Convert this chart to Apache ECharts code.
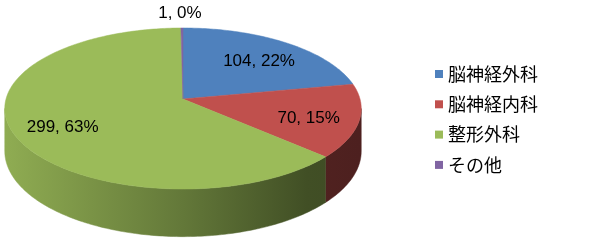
<!DOCTYPE html>
<html><head><meta charset="utf-8">
<script src="https://cdn.jsdelivr.net/npm/echarts@6/dist/echarts.min.js"></script>
<style>html,body{margin:0;padding:0;background:#fff}#c{width:600px;height:245px}</style>
</head><body><div id="c"></div>
<script>
const categories = ['脳神経外科', '脳神経内科', '整形外科', 'その他'];
const counts = [104, 70, 299, 1];
const colors = ['#4f81bd', '#c0504d', '#9bbb59', '#8064a2'];

const total = counts.reduce((a, b) => a + b, 0);
const CX = 183, CY = 99, RX = 177, RY = 79.4, K = 0.118, DEPTH = 42;
const SIL1 = 90 + Math.asin(K) * 180 / Math.PI;
const SIL2 = 270 - Math.asin(K) * 180 / Math.PI;

function proj(deg, r) {
  const t = deg * Math.PI / 180;
  const X = r * Math.sin(t), Z = -r * Math.cos(t);
  const d = 1 - K * Z;
  return [CX + RX * X / d, CY + RY * Z / d];
}
function shade(hex, f) {
  const n = parseInt(hex.slice(1), 16);
  const r = Math.round(((n >> 16) & 255) * f), g = Math.round(((n >> 8) & 255) * f), b = Math.round((n & 255) * f);
  return 'rgb(' + r + ',' + g + ',' + b + ')';
}
function sideFill(c) {
  return {
    type: 'linear', x: CX - RX, y: 0, x2: CX + RX, y2: 0, global: true,
    colorStops: [
      { offset: 0, color: shade(c, 0.92) },
      { offset: 0.5, color: shade(c, 0.64) },
      { offset: 0.85, color: shade(c, 0.42) },
      { offset: 1, color: shade(c, 0.40) }
    ]
  };
}

function renderItem(params, api) {
  const i = params.seriesIndex;
  const v = api.value(0);
  const color = api.visual('color');
  let before = 0;
  for (let j = 0; j < i; j++) before += counts[j];
  const a1 = before / total * 360, a2 = (before + v) / total * 360;
  const children = [];
  const s1 = Math.max(a1, SIL1), s2 = Math.min(a2, SIL2);
  if (s2 > s1) {
    const top = [], bot = [];
    const n = Math.max(2, Math.ceil(s2 - s1));
    for (let k = 0; k <= n; k++) {
      const a = s1 + (s2 - s1) * k / n;
      const p = proj(a, 1);
      const Z = -Math.cos(a * Math.PI / 180);
      const dd = DEPTH / (1 - K * Z);
      top.push(p);
      bot.push([p[0], p[1] + dd]);
    }
    const fill = sideFill(color);
    children.push({ type: 'polygon', shape: { points: top.concat(bot.reverse()) },
      style: { fill: fill, stroke: fill, lineWidth: 0.5 }, z2: 1 });
  }
  const pts = [[CX, CY]];
  const n2 = Math.max(2, Math.ceil(a2 - a1));
  for (let k = 0; k <= n2; k++) pts.push(proj(a1 + (a2 - a1) * k / n2, 1));
  children.push({ type: 'polygon', shape: { points: pts },
    style: { fill: color, stroke: color, lineWidth: 0.5 }, z2: 5 });
  const pct = Math.round(v / total * 100);
  const mid = (a1 + a2) / 2;
  const txt = v + ', ' + pct + '%';
  let lp, va;
  if (v / total < 0.03) { lp = proj(mid, 1); lp = [lp[0] - 2, lp[1] - 6]; va = 'bottom'; }
  else { lp = proj(mid, 0.72); lp = [lp[0], lp[1] + 4]; va = 'middle'; }
  children.push({ type: 'text', x: lp[0], y: lp[1], z2: 20,
    style: { text: txt, fill: '#000', fontSize: 17, fontFamily: '"Liberation Sans", Arial, sans-serif',
      align: 'center', verticalAlign: va } });
  return { type: 'group', children: children };
}

const chart = echarts.init(document.getElementById('c'), null, { renderer: 'canvas' });
chart.setOption({
  animation: false,
  color: colors,
  legend: {
    orient: 'vertical', left: 435, top: 64, padding: 0,
    itemWidth: 8, itemHeight: 8, itemGap: 10.3, icon: 'rect',
    data: categories,
    textStyle: { fontSize: 18, lineHeight: 20, color: '#000', fontFamily: '"Noto Sans CJK JP", sans-serif' }
  },
  series: categories.map((name, i) => ({
    type: 'custom', name: name, coordinateSystem: 'none', silent: true,
    itemStyle: { color: colors[i] },
    renderItem: renderItem,
    data: [[counts[i]]]
  }))
});
</script></body></html>
